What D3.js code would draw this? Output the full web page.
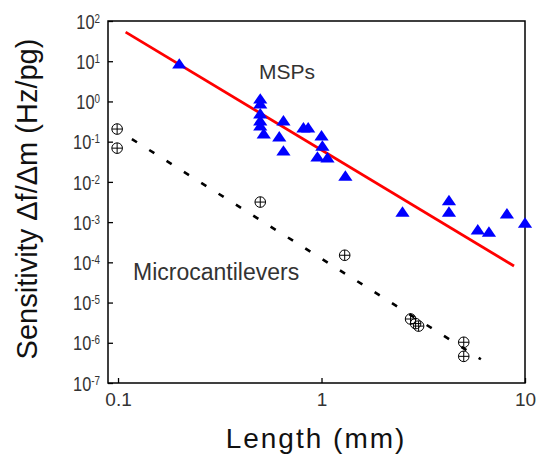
<!DOCTYPE html>
<html>
<head>
<meta charset="utf-8">
<script src="https://cdn.jsdelivr.net/npm/d3@7"></script>
<style>
  body { margin: 0; background: #fff; }
  text { font-family: "Liberation Sans", Arial, sans-serif; }
</style>
</head>
<body>
<div class="canva"></div>
<script>
// MSP data (triangles)
const mspLength = [0.2, 0.5, 0.5, 0.5, 0.5, 0.5, 0.52, 0.65, 0.62, 0.65, 0.815, 0.86,
                   1.0, 1.01, 0.955, 1.07, 1.31, 2.5, 4.23, 4.23, 5.86, 6.65, 8.15, 10];
const mspSens   = [8, 1.08, 0.81, 0.46, 0.31, 0.23, 0.146, 0.31, 0.123, 0.055, 0.206, 0.206,
                   0.13, 0.073, 0.039, 0.037, 0.013, 0.00167, 0.0032, 0.00167, 0.0006, 0.00053, 0.0015, 0.00089];

// microcantilever data (circle-cross markers)
const cantLength = [0.099, 0.099, 0.5, 1.3, 2.74, 2.9, 3.0, 5.0, 5.0];
const cantSens   = [0.206, 0.069, 0.00315, 0.00015, 3.9e-6, 3.0e-6, 2.6e-6, 1.03e-6, 4.6e-7];

// fitted lines (end points)
const mspFitLength = [0.109, 8.83];
const mspFitSens   = [53, 8.1e-5];
const cantFitLength = [0.117, 6.07];
const cantFitSens   = [0.116, 3.9e-7];

const xTicks = [0.1, 1, 10];
const xTickLabels = ["0.1", "1", "10"];
const yTickExps = [-7, -6, -5, -4, -3, -2, -1, 0, 1, 2];

const W = 536, H = 457;
const mLeft = 108, mTop = 21, mRight = 525, mBottom = 383;

const svg = d3.select(".canva").append("svg")
    .attr("width", W)
    .attr("height", H);

const x = d3.scaleLog()
    .domain([Math.pow(10, -1 - 10 / 203), 10])
    .range([mLeft, mRight]);

const y = d3.scaleLog()
    .domain([1e-7, 100])
    .range([mBottom, mTop]);

// frame
svg.append("rect")
    .attr("x", mLeft).attr("y", mTop)
    .attr("width", mRight - mLeft).attr("height", mBottom - mTop)
    .attr("fill", "none").attr("stroke", "#000").attr("stroke-width", 1.5);

// y axis, labels as 10 with superscript exponent (narrow, like the original)
const sx = 0.82;
const yAxis = svg.append("g")
    .attr("transform", `translate(${mLeft},0)`)
    .call(d3.axisLeft(y)
        .tickValues(yTickExps.map(e => Math.pow(10, e)))
        .tickSize(-5)
        .tickPadding(8)
        .tickFormat(""));
yAxis.select(".domain").remove();
yAxis.selectAll(".tick line").attr("stroke", "#000").attr("stroke-width", 1.3);
yAxis.selectAll(".tick text").each(function(d, i) {
    const t = d3.select(this)
        .attr("x", -8 / sx)
        .attr("transform", `scale(${sx},1)`)
        .attr("font-size", 20)
        .attr("fill", "#333")
        .attr("dy", "0.36em");
    t.append("tspan").text("10");
    t.append("tspan")
        .attr("font-size", 12)
        .attr("dy", "-0.5em")
        .text(yTickExps[i]);
});

// x axis
const xAxis = svg.append("g")
    .attr("transform", `translate(0,${mBottom})`)
    .call(d3.axisBottom(x)
        .tickValues(xTicks)
        .tickSize(-5)
        .tickPadding(10)
        .tickFormat((d, i) => xTickLabels[i]));
xAxis.select(".domain").remove();
xAxis.selectAll(".tick line").attr("stroke", "#000").attr("stroke-width", 1.3);
xAxis.selectAll(".tick text").attr("font-size", 19).attr("fill", "#333");

// fit lines
const line = d3.line().x(d => x(d[0])).y(d => y(d[1]));

svg.append("path")
    .datum(d3.zip(mspFitLength, mspFitSens))
    .attr("d", line)
    .attr("fill", "none")
    .attr("stroke", "#ff0000")
    .attr("stroke-width", 2.8);

svg.append("path")
    .datum(d3.zip(cantFitLength, cantFitSens))
    .attr("d", line)
    .attr("fill", "none")
    .attr("stroke", "#000")
    .attr("stroke-width", 2.6)
    .attr("stroke-dasharray", "6,14.5");

// MSP triangles (slightly flattened)
svg.append("g").selectAll("path")
    .data(d3.zip(mspLength, mspSens))
    .enter().append("path")
    .attr("d", d3.symbol(d3.symbolTriangle, 70))
    .attr("transform", d => `translate(${x(d[0])},${y(d[1])}) scale(1.12,0.95)`)
    .attr("fill", "#0000ff");

// microcantilever markers
const cm = svg.append("g").selectAll("g")
    .data(d3.zip(cantLength, cantSens))
    .enter().append("g")
    .attr("transform", d => `translate(${x(d[0])},${y(d[1])})`);
cm.append("circle")
    .attr("r", 5.3)
    .attr("fill", "none")
    .attr("stroke", "#000")
    .attr("stroke-width", 1);
cm.append("path")
    .attr("d", "M-5.3,0H5.3M0,-5.3V5.3")
    .attr("stroke", "#000")
    .attr("stroke-width", 1);

// series labels
svg.append("text")
    .attr("x", 259).attr("y", 79)
    .attr("font-size", 21)
    .attr("fill", "#333")
    .text("MSPs");

svg.append("text")
    .attr("x", 133).attr("y", 280)
    .attr("font-size", 23)
    .attr("fill", "#333")
    .text("Microcantilevers");

// axis titles
svg.append("text")
    .attr("x", 316).attr("y", 448)
    .attr("text-anchor", "middle")
    .attr("font-size", 28)
    .attr("letter-spacing", 2)
    .attr("fill", "#111")
    .text("Length (mm)");

svg.append("text")
    .attr("transform", "translate(37,199) rotate(-90)")
    .attr("text-anchor", "middle")
    .attr("font-size", 29)
    .attr("fill", "#111")
    .text("Sensitivity \u0394f/\u0394m (Hz/pg)");
</script>
</body>
</html>
